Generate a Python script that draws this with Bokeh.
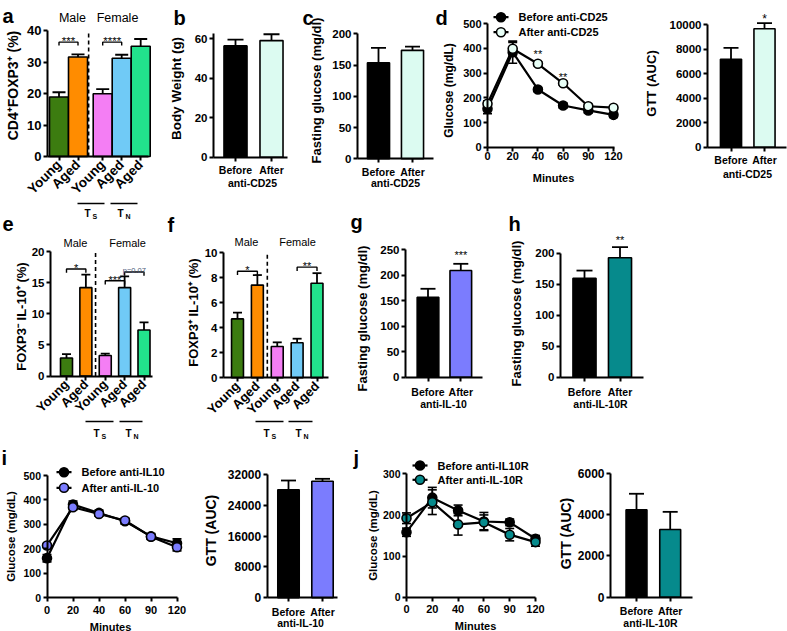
import math
from bokeh.plotting import figure
from bokeh.models import Range1d, LinearAxis, FixedTicker
from bokeh.core.properties import value
from bokeh.embed import file_html
from bokeh.resources import INLINE

FONT = "Liberation Sans"

# ------------------------------------------------------------------ data
minutes = [0, 20, 40, 60, 90, 120]
minute_pos = [0, 1, 2, 3, 4, 5]

age_labels = ["Young", "Aged", "Young", "Aged", "Aged"]
a_pos = [1, 2, 3.3, 4.3, 5.3]
a_mean = [18.9, 31.6, 19.9, 31.2, 35.0]
a_sem = [1.5, 0.8, 1.5, 1.1, 2.3]

ef_pos = [1, 2, 3, 4, 5]
e_mean = [2.9, 14.2, 3.3, 14.2, 7.4]
e_sem = [0.6, 2.1, 0.3, 1.8, 1.2]
f_mean = [4.7, 7.4, 2.5, 2.8, 7.55]
f_sem = [0.5, 0.8, 0.33, 0.32, 0.8]

ba_labels = ["Before", "After"]
ba_pos = [1, 2]
b_mean = [56.4, 59.1]
b_sem = [3.2, 3.2]
c_mean = [153.6, 173.5]
c_sem = [24.0, 6.0]
d_auc_mean = [7170, 9650]
d_auc_sem = [930, 460]
g_mean = [157, 209.5]
g_sem = [16.5, 13.0]
h_mean = [159.7, 192.6]
h_sem = [12.3, 17.1]
i_auc_mean = [28030, 30260]
i_auc_sem = [2410, 620]
j_auc_mean = [4230, 3275]
j_auc_sem = [775, 855]

d_before = [156, 385, 234, 169, 149, 131]
d_before_sem = [20, 45, 8, 10, 10, 10]
d_after = [176, 399, 338, 259, 166, 160]
d_after_sem = [12, 25, 8, 8, 8, 8]

i_before = [162, 381, 347, 313, 251, 223]
i_before_sem = [15, 15, 12, 12, 12, 18]
i_after = [214, 370, 343, 316, 250, 207]
i_after_sem = [8, 10, 8, 8, 8, 15]

j_before = [158, 242, 211, 184, 182, 142]
j_before_sem = [10, 25, 13, 22, 8, 8]
j_after = [192, 231, 177, 182, 152, 134]
j_after_sem = [13, 30, 26, 18, 15, 10]

# colours (style)
age_colors = ["#3c7c10", "#ff8c00", "#f47ef4", "#70caf6", "#22e28c"]
CD25_AFTER = "#dcfbf1"
IL10_AFTER = "#7b7cfe"
IL10R_AFTER = "#068a8c"

# ------------------------------------------------------------------ canvas
X0, X1, Y0, Y1 = 0, 787, 0, 631
p = figure(width=X1 - X0, height=Y1 - Y0,
           x_range=Range1d(X0, X1), y_range=Range1d(Y1, Y0),
           output_backend="svg", toolbar_location=None,
           x_axis_type=None, y_axis_type=None, min_border=0)
p.outline_line_color = None
p.background_fill_color = "white"
p.border_fill_color = "white"


class Panel:
    def __init__(self, name, xa, xb, ya, yb):
        (xp0, xv0), (xp1, xv1) = xa, xb
        (yp0, yv0), (yp1, yv1) = ya, yb
        self.xn, self.yn = name + "_x", name + "_y"
        self.kx = (xv1 - xv0) / (xp1 - xp0)
        self.ky = (yv1 - yv0) / (yp1 - yp0)
        self.xp0, self.xv0, self.yp0, self.yv0 = xp0, xv0, yp0, yv0
        p.extra_x_ranges[self.xn] = Range1d(self.vx(X0), self.vx(X1))
        p.extra_y_ranges[self.yn] = Range1d(self.vy(Y1), self.vy(Y0))

    def vx(self, px):
        return self.xv0 + (px - self.xp0) * self.kx

    def vy(self, py):
        return self.yv0 + (py - self.yp0) * self.ky

    def kw(self):
        return dict(x_range_name=self.xn, y_range_name=self.yn)


def style_axis(ax, tick_fs):
    ax.axis_line_width = 2
    ax.axis_line_color = "black"
    ax.major_tick_line_width = 2
    ax.major_tick_line_color = "black"
    ax.major_tick_out = 4
    ax.major_tick_in = 0
    ax.minor_tick_out = 0
    ax.minor_tick_in = 0
    ax.major_label_text_font = FONT
    ax.major_label_text_font_style = "bold"
    ax.major_label_text_font_size = f"{tick_fs}px"
    ax.major_label_text_color = "black"


def y_axis(P, at_px, top, step, tick_fs, bound_top=None):
    ticks = []
    t = 0
    while t <= top + 1e-9:
        ticks.append(t)
        t += step
    ax = LinearAxis(ticker=FixedTicker(ticks=ticks), fixed_location=P.vx(at_px),
                    bounds=(0, bound_top if bound_top else top), **P.kw())
    style_axis(ax, tick_fs)
    ax.major_label_standoff = 2
    p.add_layout(ax, "left")


def x_axis(P, px0, px1, ticks, labels, tick_fs, lab_standoff=3, orientation=None):
    ax = LinearAxis(ticker=FixedTicker(ticks=ticks), fixed_location=0,
                    bounds=(P.vx(px0), P.vx(px1)),
                    major_label_overrides={t: s for t, s in zip(ticks, labels)}, **P.kw())
    style_axis(ax, tick_fs)
    ax.major_label_standoff = lab_standoff
    if orientation is not None:
        ax.major_label_orientation = orientation
    p.add_layout(ax, "below")


def bars(P, pos, mean, sem, colors, width, cap_px):
    p.vbar(x=pos, top=mean, bottom=0, width=width, fill_color=colors,
           line_color="black", line_width=1.6, **P.kw())
    tops = [m + s for m, s in zip(mean, sem)]
    p.segment(x0=pos, y0=mean, x1=pos, y1=tops, line_color="black", line_width=1.8, **P.kw())
    p.scatter(x=pos, y=tops, marker="dash", size=cap_px, line_color="black",
              line_width=1.8, **P.kw())


def curve(P, xs, mean, sem, fill, size=9):
    lo = [m - s for m, s in zip(mean, sem)]
    hi = [m + s for m, s in zip(mean, sem)]
    p.line(x=xs, y=mean, line_color="black", line_width=2.2, **P.kw())
    p.segment(x0=xs, y0=lo, x1=xs, y1=hi, line_color="black", line_width=1.6, **P.kw())
    p.scatter(x=xs, y=hi, marker="dash", size=9, line_color="black", line_width=1.6, **P.kw())
    p.scatter(x=xs, y=lo, marker="dash", size=9, line_color="black", line_width=1.6, **P.kw())
    p.scatter(x=xs, y=mean, marker="circle", size=size, fill_color=fill,
              line_color="black", line_width=1.6, **P.kw())


def txt(x, y, s, size, bold=True, align="center", baseline="middle", color="black",
        P=None, y_off=0, angle=0.0):
    kw = P.kw() if P else {}
    p.text(x=[x], y=[y], text=[s], text_font=value(FONT), text_font_size=f"{size}px",
           text_font_style="bold" if bold else "normal", text_align=align,
           text_baseline=baseline, text_color=color, y_offset=y_off, angle=angle, **kw)


def vtxt(x, y, s, size):
    txt(x, y, s, size, angle=math.pi / 2)


def bracket(P, x0, x1, y, drop, label, fs=11, color="black", bold=False, y_off=-1):
    p.line(x=[x0, x0, x1, x1], y=[y - drop, y, y, y - drop], line_color="black",
           line_width=1.4, **P.kw())
    txt((x0 + x1) / 2, y, label, fs, bold=bold, baseline="alphabetic", color=color,
        P=P, y_off=y_off)


def dashed(P, x, top):
    p.line(x=[x, x], y=[0, top], line_color="black", line_width=1.6,
           line_dash="4 3", **P.kw())


def t_label(x, y, sub, fs=10):
    txt(x - 2, y, "T", fs, align="center")
    txt(x + 3, y + 3, sub, fs - 3, align="left")


def legend_row(x, y, s, fill, fs=11):
    p.line(x=[x, x + 15], y=[y, y], line_color="black", line_width=2.2)
    p.scatter(x=[x + 7.5], y=[y], marker="circle", size=9, fill_color=fill,
              line_color="black", line_width=1.6)
    txt(x + 25, y, s, fs, align="left")


# ------------------------------------------------------------------ panel a
A = Panel("a", (58.5, 1), (77.5, 2), (156, 0), (30, 40))
bars(A, a_pos, a_mean, a_sem, age_colors, 1.0, 13)
dashed(A, 2.56, 40)
y_axis(A, 47, 40, 10, 13)
x_axis(A, 47, 148, a_pos, age_labels, 13.5, lab_standoff=2, orientation=math.pi / 4)
bracket(A, 1, 2, 36.3, 1.1, "***", 11.5)
bracket(A, 3.3, 4.3, 36.3, 1.1, "****", 11.5)
txt(72, 17, "Male", 12.5, bold=False)
txt(117, 17, "Female", 12.5, bold=False)
txt(2, 15.5, "a", 20, align="left", baseline="alphabetic")
vtxt(12, 85, "CD4\u207aFOXP3\u207a (%)", 14)
p.line(x=[77, 104], y=[203, 203], line_color="black", line_width=1.5)
p.line(x=[110, 137], y=[203, 203], line_color="black", line_width=1.5)
t_label(89, 213, "S")
t_label(122, 213, "N")

# ------------------------------------------------------------------ panel b
B = Panel("b", (235, 1), (271, 2), (156.7, 0), (38.3, 60))
bars(B, ba_pos, b_mean, b_sem, ["black", CD25_AFTER], 0.64, 16)
y_axis(B, 213, 60, 20, 11.5, bound_top=62.5)
x_axis(B, 213, 287, ba_pos, ba_labels, 10.5)
txt(252, 182, "anti-CD25", 10.5)
vtxt(176, 88, "Body Weight (g)", 13.5)
txt(173, 17, "b", 20, align="left", baseline="alphabetic")

# ------------------------------------------------------------------ panel c
C = Panel("c", (378, 1), (412, 2), (158.3, 0), (33.3, 200))
bars(C, ba_pos, c_mean, c_sem, ["black", CD25_AFTER], 0.65, 15)
y_axis(C, 357, 200, 50, 11.5)
x_axis(C, 357, 433, ba_pos, ba_labels, 10.5)
txt(395, 182, "anti-CD25", 10.5)
vtxt(316, 90, "Fasting glucose (mg/dl)", 13)
txt(302, 17, "c", 20, align="left", baseline="alphabetic")

# ------------------------------------------------------------------ panel d (curve)
D = Panel("d", (487, 0), (613, 5), (146.7, 0), (23.3, 500))
curve(D, minute_pos, d_before, d_before_sem, "black")
curve(D, minute_pos, d_after, d_after_sem, "#e8fff7")
y_axis(D, 487, 500, 100, 11)
x_axis(D, 487, 614, minute_pos, [str(m) for m in minutes], 11, lab_standoff=1)
txt(553, 177, "Minutes", 11)
vtxt(448, 90, "Glucose (mg/dL)", 12)
txt(2, d_after[2] + 38, "**", 11, bold=False, P=D)
txt(3, d_after[3] + 25, "**", 11, bold=False, P=D)
legend_row(493, 16.7, "Before anti-CD25", "black")
legend_row(493, 31.7, "After anti-CD25", "#e8fff7")
txt(435, 17, "d", 20, align="left", baseline="alphabetic")

# ------------------------------------------------------------------ panel d (AUC)
D2 = Panel("d2", (730.5, 1), (764, 2), (146.7, 0), (24, 10000))
bars(D2, ba_pos, d_auc_mean, d_auc_sem, ["black", CD25_AFTER], 0.63, 15)
y_axis(D2, 707, 10000, 2000, 11.5)
x_axis(D2, 707, 786, ba_pos, ba_labels, 10.5)
txt(747, 173, "anti-CD25", 10.5)
vtxt(651, 83, "GTT (AUC)", 13)
txt(2, d_auc_mean[1] + d_auc_sem[1] + 350, "*", 12, bold=False, P=D2)

# ------------------------------------------------------------------ panel e
E = Panel("e", (66, 1), (143.5, 5), (375.5, 0), (251, 20))
bars(E, ef_pos, e_mean, e_sem, age_colors, 0.62, 9)
dashed(E, 2.5, 20)
y_axis(E, 50, 20, 5, 11.5)
x_axis(E, 50, 152, ef_pos, age_labels, 13, lab_standoff=2, orientation=math.pi / 4)
bracket(E, 1, 2, 17.2, 0.6, "*", 11)
bracket(E, 3, 4, 15.3, 0.6, "***", 11)
bracket(E, 4, 5, 16.7, 0.6, "p=0.07", 7.5, color="#4a5878", y_off=-2)
txt(75, 242, "Male", 11, bold=False)
txt(127, 242, "Female", 11, bold=False)
txt(2, 223, "e", 20, align="left", baseline="alphabetic")
vtxt(21, 316, "FOXP3\u207b IL-10\u207a (%)", 13)
p.line(x=[85, 113], y=[421, 421], line_color="black", line_width=1.5)
p.line(x=[119, 142], y=[421, 421], line_color="black", line_width=1.5)
t_label(98, 433, "S")
t_label(130, 433, "N")

# ------------------------------------------------------------------ panel f
F = Panel("f", (237, 1), (316.5, 5), (377.3, 0), (252, 10))
bars(F, ef_pos, f_mean, f_sem, age_colors, 0.6, 9)
dashed(F, 2.5, 10)
y_axis(F, 223, 10, 2, 11.5)
x_axis(F, 223, 328, ef_pos, age_labels, 13, lab_standoff=2, orientation=math.pi / 4)
bracket(F, 1, 2, 8.5, 0.3, "*", 11)
bracket(F, 4, 5, 8.83, 0.3, "**", 11)
txt(246, 241, "Male", 11, bold=False)
txt(297, 241, "Female", 11, bold=False)
txt(167, 224, "f", 20, align="left", baseline="alphabetic")
vtxt(193, 312, "FOXP3\u207a IL-10\u207a (%)", 13)
p.line(x=[255, 283], y=[421, 421], line_color="black", line_width=1.5)
p.line(x=[288, 312], y=[421, 421], line_color="black", line_width=1.5)
t_label(268, 433, "S")
t_label(300, 433, "N")

# ------------------------------------------------------------------ panel g
G = Panel("g", (427.5, 1), (460.3, 2), (376.7, 0), (249.3, 250))
bars(G, ba_pos, g_mean, g_sem, ["black", IL10_AFTER], 0.66, 15)
y_axis(G, 405, 250, 50, 11.5)
x_axis(G, 405, 481.7, ba_pos, ba_labels, 10.5, lab_standoff=5)
txt(443, 403.5, "anti-IL-10", 10.5)
vtxt(362, 318, "Fasting glucose (mg/dl)", 13)
txt(2, g_mean[1] + g_sem[1] + 18, "***", 11, bold=False, P=G)
txt(350, 221, "g", 20, align="left", baseline="alphabetic")

# ------------------------------------------------------------------ panel h
H = Panel("h", (584, 1), (619.5, 2), (376.7, 0), (252.7, 200))
bars(H, ba_pos, h_mean, h_sem, ["black", IL10R_AFTER], 0.65, 16)
y_axis(H, 560, 200, 50, 11.5)
x_axis(H, 560, 643.3, ba_pos, ba_labels, 10.5, lab_standoff=5)
txt(600, 403.5, "anti-IL-10R", 10.5)
vtxt(516, 313, "Fasting glucose (mg/dl)", 13)
txt(2, h_mean[1] + h_sem[1] + 12, "**", 11, bold=False, P=H)
txt(508, 223, "h", 20, align="left", baseline="alphabetic")

# ------------------------------------------------------------------ panel i (curve)
I = Panel("i", (46.5, 0), (176.5, 5), (597.3, 0), (475, 500))
curve(I, minute_pos, i_before, i_before_sem, "black")
curve(I, minute_pos, i_after, i_after_sem, IL10_AFTER)
y_axis(I, 46.5, 500, 100, 10.5)
x_axis(I, 46.5, 176.5, minute_pos, [str(m) for m in minutes], 11, lab_standoff=4)
txt(110, 626, "Minutes", 11)
vtxt(10, 536, "Glucose (mg/dL)", 11.5)
legend_row(56, 471.7, "Before  anti-IL10", "black")
legend_row(56, 487.3, "After anti-IL-10", IL10_AFTER)
txt(1, 457, "i", 20, align="left", baseline="alphabetic")

# ------------------------------------------------------------------ panel i (AUC)
I2 = Panel("i2", (288, 1), (322, 2), (597.3, 0), (474, 32000))
bars(I2, ba_pos, i_auc_mean, i_auc_sem, ["black", IL10_AFTER], 0.63, 15)
y_axis(I2, 266.7, 32000, 8000, 12)
x_axis(I2, 266.7, 336.7, ba_pos, ba_labels, 10.5, lab_standoff=4)
txt(300, 622, "anti-IL-10", 10.5)
vtxt(210, 530, "GTT (AUC)", 14)

# ------------------------------------------------------------------ panel j (curve)
J = Panel("j", (406, 0), (535, 5), (596.7, 0), (473.3, 300))
curve(J, minute_pos, j_before, j_before_sem, "black")
curve(J, minute_pos, j_after, j_after_sem, IL10R_AFTER)
y_axis(J, 406, 300, 100, 10.5)
x_axis(J, 406, 535, minute_pos, [str(m) for m in minutes], 11, lab_standoff=4)
txt(475, 625, "Minutes", 11)
vtxt(372, 535, "Glucose (mg/dL)", 11.5)
legend_row(412, 465, "Before  anti-IL10R", "black")
legend_row(412, 479.3, "After anti-IL-10R", IL10R_AFTER)
txt(353, 457, "j", 20, align="left", baseline="alphabetic")

# ------------------------------------------------------------------ panel j (AUC)
J2 = Panel("j2", (636, 1), (669.7, 2), (596.7, 0), (472.7, 6000))
bars(J2, ba_pos, j_auc_mean, j_auc_sem, ["black", IL10R_AFTER], 0.62, 15)
y_axis(J2, 610, 6000, 2000, 12)
x_axis(J2, 610, 691.7, ba_pos, ba_labels, 10.5, lab_standoff=4)
txt(650, 622, "anti-IL-10R", 10.5)
vtxt(565, 533, "GTT (AUC)", 14)

open("out.html", "w").write(file_html(p, INLINE))
